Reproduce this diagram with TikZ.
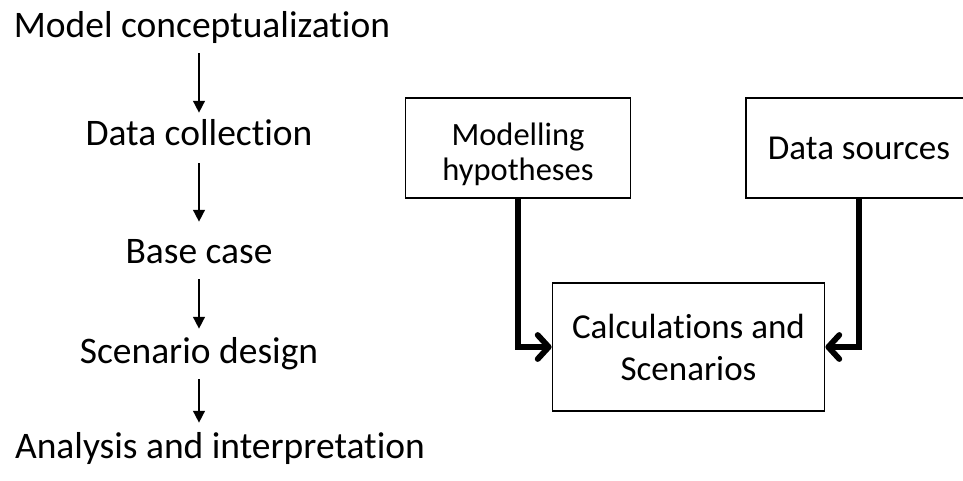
\documentclass[tikz,border=0pt]{standalone}
\usepackage{fontspec}
\setmainfont{Carlito}[Ligatures=NoCommon]
\usetikzlibrary{arrows.meta}

\tikzset{
  steplabel/.style={inner sep=0pt, anchor=base, text height=24pt, text depth=8pt,
    font=\fontsize{37.5}{45}\selectfont},
  flowarrow/.style={line width=2.6pt, -{Triangle[length=12pt,width=11.5pt]}},
  infobox/.style={draw, line width=1.8pt, inner sep=0pt, align=center},
  feedarrow/.style={line width=5.8pt, -{Straight Barb[length=11pt,width=24pt,round]}}
}

\begin{document}
\begin{tikzpicture}[x=1pt, y=-1pt]
  \useasboundingbox (0,0) rectangle (963,480);

  % process steps on the left
  \node[steplabel] (concept)  at (202,37)  {Model conceptualization};
  \node[steplabel] (collect)  at (199,145) {Data collection};
  \node[steplabel] (base)     at (199,263) {Base case};
  \node[steplabel] (scenario) at (199,363) {Scenario design};
  \node[steplabel] (analysis) at (220,458) {Analysis and interpretation};

  \draw[flowarrow, shorten <=8pt, shorten >=8pt] (concept.south -| collect.south) -- (collect.north);
  \draw[flowarrow, shorten <=10pt, shorten >=17pt] (collect.south) -- (base.north);
  \draw[flowarrow, shorten <=8pt, shorten >=10pt] (base.south) -- (scenario.north);
  \draw[flowarrow, shorten <=8pt, shorten >=11pt] (scenario.south) -- (scenario.south |- analysis.north);

  % model structure on the right; the text of the first box sits a little low
  \node[infobox, minimum width=225pt, minimum height=100pt,
        font=\fontsize{32.5}{31}\selectfont] (hyp) at (518,148)
    {\raisebox{0pt}[\dimexpr\height+16pt\relax][\depth]{%
      \begin{tabular}{@{}c@{}}Modelling\\[3pt]hypotheses\end{tabular}}};
  \node[infobox, minimum width=226pt, minimum height=100pt,
        font=\fontsize{35}{42}\selectfont] (src) at (859,148)
    {Data sources};
  \node[infobox, minimum width=272pt, minimum height=128pt,
        font=\fontsize{35}{42}\selectfont] (calc) at (688.5,347)
    {Calculations and\\Scenarios};

  \draw[feedarrow] (hyp.south) |- (calc.west);
  \draw[feedarrow] (src.south) |- (calc.east);
\end{tikzpicture}
\end{document}
